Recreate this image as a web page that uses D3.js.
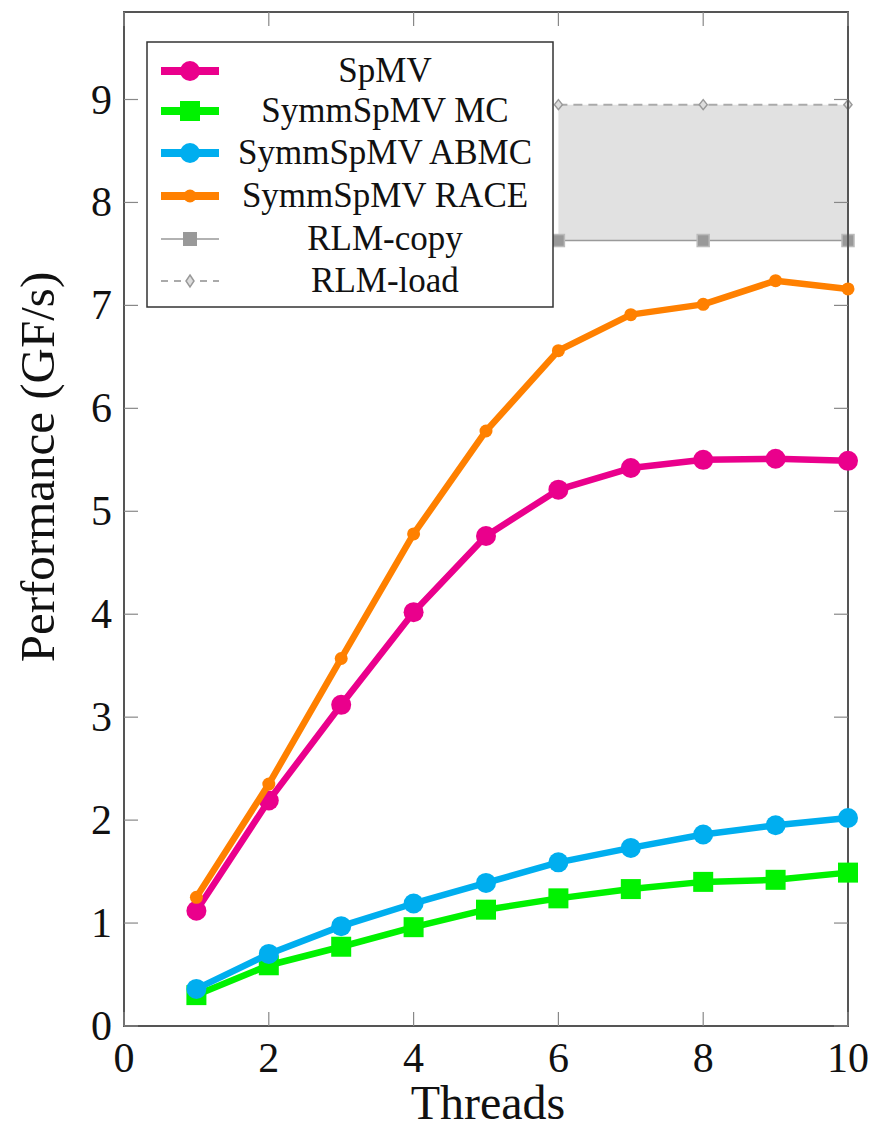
<!DOCTYPE html>
<html>
<head>
<meta charset="utf-8">
<script src="https://cdn.jsdelivr.net/npm/d3@7"></script>
<style>
  body { margin: 0; background: #fff; }
</style>
</head>
<body>
<script>
const threads = [1, 2, 3, 4, 5, 6, 7, 8, 9, 10]
const spmv = [1.12, 2.19, 3.12, 4.02, 4.76, 5.21, 5.42, 5.50, 5.51, 5.49]
const symmMC = [0.30, 0.59, 0.77, 0.96, 1.13, 1.24, 1.33, 1.40, 1.42, 1.49]
const symmABMC = [0.36, 0.70, 0.97, 1.19, 1.39, 1.59, 1.73, 1.86, 1.95, 2.02]
const symmRACE = [1.25, 2.35, 3.57, 4.78, 5.78, 6.56, 6.91, 7.01, 7.24, 7.16]
const rlmThreads = [6, 8, 10]
const rlmCopy = [7.63, 7.63, 7.63]
const rlmLoad = [8.95, 8.95, 8.95]
const xTicks = [0, 2, 4, 6, 8, 10]
const yTicks = [0, 1, 2, 3, 4, 5, 6, 7, 8, 9]

const width = 878
const height = 1133
const plotLeft = 124
const plotRight = 848
const plotTop = 12
const plotBottom = 1026
const serif = "'Liberation Serif', 'Times New Roman', Times, 'DejaVu Serif', serif"

const x = d3.scaleLinear().domain([0, 10]).range([plotLeft, plotRight])
const y = d3.scaleLinear().domain([0, 9.85]).range([plotBottom, plotTop])

const svg = d3.select('body').append('svg')
  .attr('width', width)
  .attr('height', height)
  .attr('font-family', serif)
  .style('font-family', serif)

// RLM band
svg.append('path')
  .datum(rlmThreads.map((t, i) => [t, rlmCopy[i], rlmLoad[i]]))
  .attr('fill', '#e1e1e1')
  .attr('d', d3.area().x(d => x(d[0])).y0(d => y(d[1])).y1(d => y(d[2])))

svg.append('path')
  .datum(rlmThreads.map((t, i) => [t, rlmCopy[i]]))
  .attr('fill', 'none').attr('stroke', '#9a9a9a').attr('stroke-width', 1.5)
  .attr('d', d3.line().x(d => x(d[0])).y(d => y(d[1])))
svg.append('path')
  .datum(rlmThreads.map((t, i) => [t, rlmLoad[i]]))
  .attr('fill', 'none').attr('stroke', '#aaaaaa').attr('stroke-width', 2)
  .attr('stroke-dasharray', '9,6')
  .attr('d', d3.line().x(d => x(d[0])).y(d => y(d[1])))
svg.selectAll('.rlmc').data(rlmCopy).enter().append('rect')
  .attr('x', (d, i) => x(rlmThreads[i]) - 6).attr('y', d => y(d) - 6)
  .attr('width', 12).attr('height', 12)
  .attr('fill', '#999').attr('stroke', '#bbb').attr('stroke-width', 1.5)
svg.selectAll('.rlml').data(rlmLoad).enter().append('path')
  .attr('transform', (d, i) => `translate(${x(rlmThreads[i])},${y(d)})`)
  .attr('d', 'M0,-5L4,0L0,5L-4,0Z')
  .attr('fill', '#ddd').attr('stroke', '#999').attr('stroke-width', 1.5)

// axes frame and ticks
const frame = svg.append('g')
frame.append('rect')
  .attr('x', plotLeft).attr('y', plotTop).attr('width', plotRight - plotLeft).attr('height', plotBottom - plotTop)
  .attr('fill', 'none').attr('stroke', '#555').attr('stroke-width', 2)

const tickLen = 14
frame.selectAll('.yt').data(yTicks).enter().append('g').each(function (d) {
  const g = d3.select(this)
  g.append('line').attr('x1', plotLeft).attr('x2', plotLeft + tickLen).attr('y1', y(d)).attr('y2', y(d))
    .attr('stroke', '#888').attr('stroke-width', 1.2)
  g.append('line').attr('x1', plotRight).attr('x2', plotRight - tickLen).attr('y1', y(d)).attr('y2', y(d))
    .attr('stroke', '#888').attr('stroke-width', 1.2)
  g.append('text').attr('x', plotLeft - 12).attr('y', y(d) + 14)
    .attr('text-anchor', 'end').attr('font-size', 42).attr('fill', '#111').text(d)
})
frame.selectAll('.xt').data(xTicks).enter().append('g').each(function (d) {
  const g = d3.select(this)
  g.append('line').attr('x1', x(d)).attr('x2', x(d)).attr('y1', plotBottom).attr('y2', plotBottom - tickLen)
    .attr('stroke', '#888').attr('stroke-width', 1.2)
  g.append('line').attr('x1', x(d)).attr('x2', x(d)).attr('y1', plotTop).attr('y2', plotTop + tickLen)
    .attr('stroke', '#888').attr('stroke-width', 1.2)
  g.append('text').attr('x', x(d)).attr('y', plotBottom + 46)
    .attr('text-anchor', 'middle').attr('font-size', 42).attr('fill', '#111').text(d)
})

svg.append('text').attr('x', 488).attr('y', 1119)
  .attr('text-anchor', 'middle').attr('font-size', 48).attr('fill', '#111').text('Threads')
svg.append('text')
  .attr('transform', 'translate(54,467) rotate(-90)')
  .attr('text-anchor', 'middle').attr('font-size', 49).attr('fill', '#111').text('Performance (GF/s)')

// series
const series = [
  { name: 'SymmSpMV MC', values: symmMC, color: '#00f200', marker: 'square', size: 10, lw: 6.5 },
  { name: 'SymmSpMV ABMC', values: symmABMC, color: '#00aeef', marker: 'circle', size: 10, lw: 6.5 },
  { name: 'SpMV', values: spmv, color: '#ea008c', marker: 'circle', size: 10, lw: 6.5 },
  { name: 'SymmSpMV RACE', values: symmRACE, color: '#ff8000', marker: 'circle', size: 6.5, lw: 6.5 }
]
const line = d3.line().x((d, i) => x(threads[i])).y(d => y(d))

function drawMarker (g, m, cx, cy) {
  if (m.marker === 'square') {
    g.append('rect').attr('x', cx - m.size).attr('y', cy - m.size)
      .attr('width', 2 * m.size).attr('height', 2 * m.size).attr('fill', m.color)
  } else {
    g.append('circle').attr('cx', cx).attr('cy', cy).attr('r', m.size).attr('fill', m.color)
  }
}

series.forEach(s => {
  const g = svg.append('g')
  g.append('path').datum(s.values).attr('fill', 'none')
    .attr('stroke', s.color).attr('stroke-width', s.lw).attr('stroke-linejoin', 'round')
    .attr('d', line)
  s.values.forEach((v, i) => drawMarker(g, s, x(threads[i]), y(v)))
})

// legend
const legend = svg.append('g')
legend.append('rect').attr('x', 147).attr('y', 42).attr('width', 406).attr('height', 265)
  .attr('fill', '#fff').attr('stroke', '#333').attr('stroke-width', 1.5)
const legendItems = [
  { name: 'SpMV', color: '#ea008c', marker: 'circle', size: 10, lw: 8 },
  { name: 'SymmSpMV MC', color: '#00f200', marker: 'square', size: 10, lw: 8 },
  { name: 'SymmSpMV ABMC', color: '#00aeef', marker: 'circle', size: 10, lw: 8 },
  { name: 'SymmSpMV RACE', color: '#ff8000', marker: 'circle', size: 6.5, lw: 8 },
  { name: 'RLM-copy', color: '#999', marker: 'rlmc', lw: 1.5 },
  { name: 'RLM-load', color: '#aaa', marker: 'rlml', lw: 2 }
]
const rowY = [71, 111, 153, 196, 239, 281]
legendItems.forEach((m, i) => {
  const cy = rowY[i]
  legend.append('line').attr('x1', 161).attr('x2', 219).attr('y1', cy).attr('y2', cy)
    .attr('stroke', m.color).attr('stroke-width', m.lw)
    .attr('stroke-dasharray', m.marker === 'rlml' ? '7,6' : null)
  if (m.marker === 'rlmc') {
    legend.append('rect').attr('x', 183).attr('y', cy - 7).attr('width', 14).attr('height', 14)
      .attr('fill', '#999')
  } else if (m.marker === 'rlml') {
    legend.append('path').attr('transform', `translate(190,${cy})`)
      .attr('d', 'M0,-6L4,0L0,6L-4,0Z').attr('fill', '#ddd').attr('stroke', '#999').attr('stroke-width', 1.5)
  } else {
    drawMarker(legend, m, 190, cy)
  }
  legend.append('text').attr('x', 385).attr('y', cy + 11)
    .attr('text-anchor', 'middle').attr('font-size', 35).attr('fill', '#111').text(m.name)
})
</script>
</body>
</html>
